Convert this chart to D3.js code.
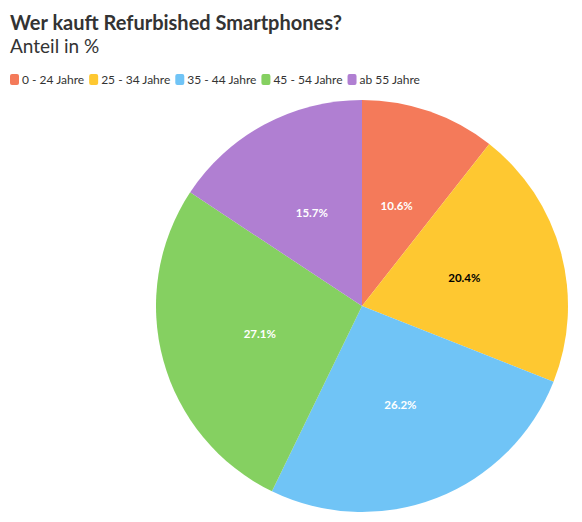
<!DOCTYPE html>
<html>
<head>
<meta charset="utf-8">
<script src="https://cdn.jsdelivr.net/npm/d3@7"></script>
<style>
  body { margin: 0; background: #fff; }
  svg { font-family: "Source Sans Pro", Lato, "Noto Sans", sans-serif; }
</style>
</head>
<body>
<svg></svg>
<script>
const WIDTH = 582;
const HEIGHT = 522;

const categories = ['0 - 24 Jahre', '25 - 34 Jahre', '35 - 44 Jahre', '45 - 54 Jahre', 'ab 55 Jahre'];
const shares = [10.6, 20.4, 26.2, 27.1, 15.7];
const colors = ['#f47a5a', '#fec831', '#70c4f6', '#85d061', '#b07fd2'];
const labelColors = ['#fff', '#000', '#fff', '#fff', '#fff'];

window.onload = () => {
  const svg = d3.select('svg')
      .attr('width', WIDTH)
      .attr('height', HEIGHT);

  // Title and subtitle
  svg.append('text')
      .attr('x', 10)
      .attr('y', 30)
      .attr('font-size', 20)
      .attr('font-weight', 700)
      .attr('fill', '#333')
      .text('Wer kauft Refurbished Smartphones?');
  svg.append('text')
      .attr('x', 10)
      .attr('y', 53)
      .attr('font-size', 19)
      .attr('fill', '#333')
      .text('Anteil in %');

  // Legend
  const legend = svg.append('g').attr('transform', 'translate(10, 74)');
  let x = 0;
  categories.forEach((c, i) => {
    const item = legend.append('g').attr('transform', `translate(${x}, 0)`);
    item.append('rect')
        .attr('width', 9)
        .attr('height', 11)
        .attr('rx', 2)
        .attr('fill', colors[i]);
    const t = item.append('text')
        .attr('x', 12)
        .attr('y', 10)
        .attr('font-size', 12)
        .attr('fill', '#333')
        .text(c);
    x += 12 + t.node().getComputedTextLength() + 5;
  });

  // Pie
  const radius = 206;
  const g = svg.append('g')
      .attr('transform', 'translate(362, 306)');
  const pie = d3.pie().sort(null).value((d) => d);
  const arc = d3.arc().innerRadius(0).outerRadius(radius);
  const labelArc = d3.arc().innerRadius(106).outerRadius(106);
  const arcs = pie(shares);

  g.selectAll('path')
      .data(arcs)
      .enter().append('path')
      .attr('d', arc)
      .attr('fill', (d, i) => colors[i]);

  g.selectAll('text')
      .data(arcs)
      .enter().append('text')
      .attr('transform', (d) => `translate(${labelArc.centroid(d)})`)
      .attr('text-anchor', 'middle')
      .attr('dy', '.35em')
      .attr('font-size', 11.5)
      .attr('font-weight', 700)
      .attr('fill', (d, i) => labelColors[i])
      .text((d) => d.data.toFixed(1) + '%');
};
</script>
</body>
</html>
